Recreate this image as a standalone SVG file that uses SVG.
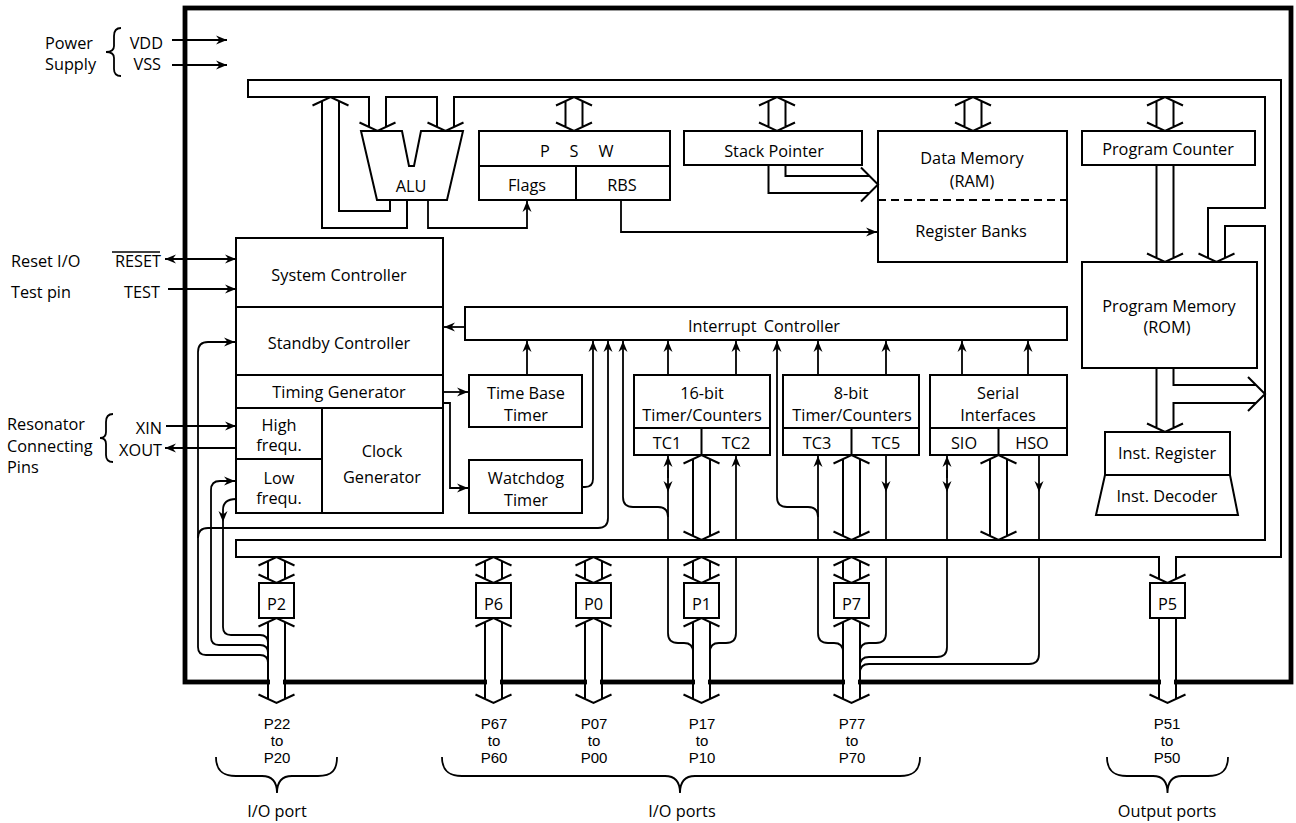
<svg xmlns="http://www.w3.org/2000/svg" width="1296" height="823" viewBox="0 0 1296 823">
<style>
.b{fill:none;stroke:#000;stroke-width:2}
.l{fill:none;stroke:#000;stroke-width:1.8}
.a{marker-end:url(#ah)}
.aa{marker-start:url(#ah);marker-end:url(#ah)}
text{font-family:"Open Sans","Noto Sans","DejaVu Sans",sans-serif;font-size:16.3px;fill:#000;text-anchor:middle}
.pin{font-family:"Liberation Sans",Arial,sans-serif;font-size:15px}
.s{text-anchor:start}
.e{text-anchor:end}
</style>
<defs>
<marker id="ah" viewBox="-12 -6 13 12" refX="0" refY="0" markerWidth="13" markerHeight="12" markerUnits="userSpaceOnUse" orient="auto-start-reverse"><path d="M0,0 L-11,-4.5 L-7.5,0 L-11,4.5 Z" fill="#000"/></marker>
</defs>
<rect width="1296" height="823" fill="#fff"/>

<g id="chip-border"><rect x="185" y="8" width="1106" height="674" fill="none" stroke="#000" stroke-width="4.8"/></g>

<g id="external-labels">
<text class="s" x="45" y="48.5">Power<tspan x="45" dy="21">Supply</tspan></text>
<path class="l" d="M121,28 C116,28 114,31 114,36 L114,46 C114,50 111,52 106,52 C111,52 114,54 114,58 L114,69 C114,74 116,76 121,76"/>
<text class="e" x="163" y="48.5">VDD</text>
<text class="e" x="161" y="69.5">VSS</text>
<text class="s" x="11" y="267">Reset I/O</text>
<text class="e" x="161" y="267">RESET</text>
<line x1="112" y1="252" x2="160" y2="252" stroke="#000" stroke-width="1.4"/>
<text class="s" x="11" y="297.5">Test pin</text>
<text class="e" x="160" y="297.5">TEST</text>
<text class="s" x="7" y="429.5">Resonator<tspan x="7" dy="22">Connecting</tspan><tspan x="7" dy="21">Pins</tspan></text>
<path class="l" d="M113,414 C108,414 106,417 106,422 L106,432 C106,436 104,438 100,438 C104,438 106,440 106,444 L106,455 C106,460 108,462 113,462"/>
<text class="e" x="162" y="433.5">XIN</text>
<text class="e" x="162" y="455.5">XOUT</text>
</g>

<g id="bus">
<path class="b" d="M369,127 V97 H248 V80 H1281 V557 H1176 V579"/>
<path class="b" d="M1159,579 V557 H236 V540 H1265 V226 H1225 V258"/>
<path class="b" d="M1208,258 V208 H1265 V97 H454 V127"/>
<path class="b" d="M437,127 V97 H386 V127"/>
<path class="b" d="M359.5,122.5 L377.5,131 L395.5,122.5 M427.5,122.5 L445.5,131 L463.5,122.5 M1198.5,253.5 L1216.5,262 L1234.5,253.5 M1149.5,574.5 L1167.5,583 L1185.5,574.5"/>
</g>

<g id="alu"><path class="b" d="M361,131 H402 L409,166 L414,166 L421,131 H463 L447,200 H377 Z"/><text x="411" y="192">ALU</text></g>
<g id="psw"><rect class="b" x="479" y="131" width="191" height="69"/><path class="b" d="M479,166 H670 M576,166 V200"/>
<text x="545" y="157">P</text><text x="574" y="157">S</text><text x="606" y="157">W</text>
<text x="527" y="191">Flags</text><text x="622" y="191">RBS</text></g>
<g id="stack-pointer"><rect class="b" x="684" y="131" width="178" height="34"/><text x="774" y="157">Stack Pointer</text></g>
<g id="data-memory"><rect class="b" x="878" y="131" width="189" height="131"/><line x1="878" y1="200" x2="1067" y2="200" stroke="#000" stroke-width="2" stroke-dasharray="8,5"/>
<text x="972" y="164">Data Memory<tspan x="972" dy="23">(RAM)</tspan></text><text x="971" y="237">Register Banks</text></g>
<g id="program-counter"><rect class="b" x="1082" y="131" width="173" height="34"/><text x="1168" y="155">Program Counter</text></g>
<g id="program-memory"><rect class="b" x="1082" y="262" width="175" height="106"/><text x="1169" y="311.5">Program Memory<tspan x="1167" dy="21.5">(ROM)</tspan></text></g>
<g id="inst-register"><rect class="b" x="1105" y="432" width="125" height="43"/><text x="1167" y="459">Inst. Register</text></g>
<g id="inst-decoder"><path class="b" d="M1105,475 H1230 L1238,515 H1096 Z"/><text x="1167" y="502">Inst. Decoder</text></g>

<g id="system-controller"><rect class="b" x="236" y="238" width="207" height="69"/><text x="339" y="280.5">System Controller</text></g>
<g id="standby-controller"><rect class="b" x="236" y="307" width="207" height="68"/><text x="339" y="348.5">Standby Controller</text></g>
<g id="timing-generator"><rect class="b" x="236" y="375" width="207" height="33"/><text x="339" y="397.5">Timing Generator</text></g>
<g id="clock-generator"><rect class="b" x="236" y="408" width="207" height="105"/><path class="b" d="M322,408 V513 M236,459 H322"/>
<text x="279" y="430.5">High<tspan x="279" dy="20.5">frequ.</tspan></text><text x="279" y="484">Low<tspan x="279" dy="19.5">frequ.</tspan></text>
<text x="382" y="457">Clock<tspan x="382" dy="26">Generator</tspan></text></g>

<g id="interrupt-controller"><rect class="b" x="465" y="307" width="602" height="33"/><text x="764" y="331.5" word-spacing="3">Interrupt Controller</text></g>
<g id="time-base-timer"><rect class="b" x="469" y="375" width="113" height="52"/><text x="526" y="398.5">Time Base<tspan x="526" dy="22">Timer</tspan></text></g>
<g id="watchdog-timer"><rect class="b" x="469" y="460" width="113" height="53"/><text x="526" y="483.5">Watchdog<tspan x="526" dy="22">Timer</tspan></text></g>
<g id="timer16"><rect class="b" x="634" y="375" width="136" height="80"/><path class="b" d="M634,428 H770 M701.5,428 V455"/>
<text x="702" y="398.5">16-bit<tspan x="702" dy="22">Timer/Counters</tspan></text><text x="667" y="448.5">TC1</text><text x="736" y="448.5">TC2</text></g>
<g id="timer8"><rect class="b" x="783" y="375" width="136" height="80"/><path class="b" d="M783,428 H919 M851.5,428 V455"/>
<text x="851" y="398.5">8-bit<tspan x="852" dy="22">Timer/Counters</tspan></text><text x="817" y="448.5">TC3</text><text x="886" y="448.5">TC5</text></g>
<g id="serial"><rect class="b" x="930" y="375" width="137" height="80"/><path class="b" d="M930,428 H1067 M998.5,428 V455"/>
<text x="998" y="398.5">Serial<tspan x="998" dy="22">Interfaces</tspan></text><text x="964" y="448.5">SIO</text><text x="1032" y="448.5">HSO</text></g>

<g id="connectors">
<path class="l a" d="M172,40 H227"/>
<path class="l a" d="M172,65 H227"/>
<path class="l aa" d="M165,259 H236"/>
<path class="l a" d="M168,289 H236"/>
<path class="l a" d="M166,426 H236"/>
<path class="l a" d="M236,448 H165"/>
<path class="b" d="M312.5,105.5 L330.5,97 L348.5,105.5 M407,200 V228 H322 V101 M390,200 V211 H339 V101"/>
<path class="l a" d="M428,200 V228 H527 V201"/>
<path class="l a" d="M621,200 V232 H877"/>
<path class="b" d="M556,105.5 L574,97 L592,105.5 M565.5,101 V127 M582.5,101 V127 M556,122.5 L574,131 L592,122.5"/>
<path class="b" d="M759,105.5 L777,97 L795,105.5 M768.5,101 V127 M785.5,101 V127 M759,122.5 L777,131 L795,122.5"/>
<path class="b" d="M955,105.5 L973,97 L991,105.5 M964.5,101 V127 M981.5,101 V127 M955,122.5 L973,131 L991,122.5"/>
<path class="b" d="M1147,105.5 L1165,97 L1183,105.5 M1156.5,101 V127 M1173.5,101 V127 M1147,122.5 L1165,131 L1183,122.5"/>
<path class="b" d="M785.5,165 V176 H869.5 M768.5,165 V193 H869.5 M861,167.5 L878,184.5 L861,201.5"/>
<path class="b" d="M1156.5,165 V258 M1173.5,165 V258 M1147,253.5 L1165,262 L1183,253.5"/>
<path class="b" d="M1156.5,368 V428 M1173.5,368 V385 H1256 M1256,403 H1173.5 V428 M1147,423.5 L1165,432 L1183,423.5 M1248,377 L1265,394 L1248,411"/>
<path class="l a" d="M443,392 H468"/>
<path class="l a" d="M443,403 H450 V488 H468"/>
<path class="l a" d="M465,327 H444"/>
<path class="l a" d="M527,375 V341"/>
<path class="l a" d="M582,487 H585 Q593,487 593,479 V341"/>
<path class="l a" d="M198,538 Q198,528 208,528 H598 Q608,528 608,518 V341"/>
<path class="l a" d="M668,517 Q668,507 658,507 H633 Q623,507 623,497 V341"/>
<path class="l a" d="M668,375 V341"/>
<path class="l a" d="M736,375 V341"/>
<path class="l a" d="M818,517 Q818,507 808,507 H787 Q777,507 777,497 V341"/>
<path class="l a" d="M818,375 V341"/>
<path class="l a" d="M886,375 V341"/>
<path class="l a" d="M962,375 V341"/>
<path class="l a" d="M1028,375 V341"/>
<path class="l a" d="M668,478 V456"/>
<path class="l a" d="M668,470 V492"/>
<path class="l" d="M668,492 V540"/>
<path class="l a" d="M736,540 V456"/>
<path class="l a" d="M818,540 V456"/>
<path class="l a" d="M886,455 V492"/>
<path class="l" d="M886,492 V540"/>
<path class="l a" d="M947,478 V456"/>
<path class="l a" d="M947,470 V492"/>
<path class="l" d="M947,492 V540"/>
<path class="l a" d="M1039,455 V492"/>
<path class="l" d="M1039,492 V540"/>
<path class="b" d="M683.5,463.5 L701.5,455 L719.5,463.5 M693,459 V536 M710,459 V536 M683.5,531.5 L701.5,540 L719.5,531.5"/>
<path class="b" d="M833.5,463.5 L851.5,455 L869.5,463.5 M843,459 V536 M860,459 V536 M833.5,531.5 L851.5,540 L869.5,531.5"/>
<path class="b" d="M980.5,463.5 L998.5,455 L1016.5,463.5 M990,459 V536 M1007,459 V536 M980.5,531.5 L998.5,540 L1016.5,531.5"/>
<path class="l" d="M668,557 V633 Q668,643 678,643 H684 Q693,643 693,652"/>
<path class="l" d="M736,557 V633 Q736,643 726,643 H719 Q710,643 710,652"/>
<path class="l" d="M818,557 V633 Q818,643 828,643 H834 Q843,643 843,652"/>
<path class="l" d="M886,557 V633 Q886,643 876,643 H869 Q860,643 860,652"/>
<path class="l" d="M947,557 V647 Q947,657 937,657 H869 Q860,657 860,666"/>
<path class="l" d="M1039,557 V654 Q1039,664 1029,664 H869 Q860,664 860,673"/>
<path class="l a" d="M236,499 Q223,499 223,510 V522"/>
<path class="l" d="M223,522 V627 Q223,635 231,635 H260 Q268,635 268,643"/>
<path class="l a" d="M268,653 Q268,645 260,645 H219 Q211,645 211,637 V490 Q211,481 220,481 H235"/>
<path class="l a" d="M268,663 Q268,655 260,655 H206 Q198,655 198,647 V352 Q198,342 208,342 H235"/>
</g>

<g id="border-gaps" fill="#fff">
<rect x="270" y="678" width="13" height="9"/><rect x="487" y="678" width="13" height="9"/><rect x="587" y="678" width="13" height="9"/>
<rect x="695" y="678" width="13" height="9"/><rect x="845" y="678" width="13" height="9"/><rect x="1161" y="678" width="13" height="9"/>
</g>

<g id="port-arrows">
<path class="b" d="M258.5,565.5 L276.5,557 L294.5,565.5 M268,561 V579 M285,561 V579 M258.5,574.5 L276.5,583 L294.5,574.5 M258.5,626.5 L276.5,618 L294.5,626.5 M268,622 V699 M285,622 V699 M258.5,694.5 L276.5,703 L294.5,694.5"/>
<path class="b" d="M475.5,565.5 L493.5,557 L511.5,565.5 M485,561 V579 M502,561 V579 M475.5,574.5 L493.5,583 L511.5,574.5 M475.5,626.5 L493.5,618 L511.5,626.5 M485,622 V699 M502,622 V699 M475.5,694.5 L493.5,703 L511.5,694.5"/>
<path class="b" d="M575.5,565.5 L593.5,557 L611.5,565.5 M585,561 V579 M602,561 V579 M575.5,574.5 L593.5,583 L611.5,574.5 M575.5,626.5 L593.5,618 L611.5,626.5 M585,622 V699 M602,622 V699 M575.5,694.5 L593.5,703 L611.5,694.5"/>
<path class="b" d="M683.5,565.5 L701.5,557 L719.5,565.5 M693,561 V579 M710,561 V579 M683.5,574.5 L701.5,583 L719.5,574.5 M683.5,626.5 L701.5,618 L719.5,626.5 M693,622 V699 M710,622 V699 M683.5,694.5 L701.5,703 L719.5,694.5"/>
<path class="b" d="M833.5,565.5 L851.5,557 L869.5,565.5 M843,561 V579 M860,561 V579 M833.5,574.5 L851.5,583 L869.5,574.5 M833.5,626.5 L851.5,618 L869.5,626.5 M843,622 V699 M860,622 V699 M833.5,694.5 L851.5,703 L869.5,694.5"/>
<path class="b" d="M1159,618 V699 M1176,618 V699 M1149.5,694.5 L1167.5,703 L1185.5,694.5"/>
</g>

<g id="port-p2"><rect class="b" x="259" y="583" width="35" height="35"/><text x="276.5" y="609.5">P2</text></g>
<g id="port-p6"><rect class="b" x="476" y="583" width="35" height="35"/><text x="493.5" y="609.5">P6</text></g>
<g id="port-p0"><rect class="b" x="576" y="583" width="35" height="35"/><text x="593.5" y="609.5">P0</text></g>
<g id="port-p1"><rect class="b" x="684" y="583" width="35" height="35"/><text x="701.5" y="609.5">P1</text></g>
<g id="port-p7"><rect class="b" x="834" y="583" width="35" height="35"/><text x="851.5" y="609.5">P7</text></g>
<g id="port-p5"><rect class="b" x="1150" y="583" width="35" height="35"/><text x="1167.5" y="609.5">P5</text></g>

<g id="pin-labels">
<text class="pin" x="277" y="728.5">P22<tspan x="277" dy="17.4">to</tspan><tspan x="277" dy="17.4">P20</tspan></text>
<text class="pin" x="494" y="728.5">P67<tspan x="494" dy="17.4">to</tspan><tspan x="494" dy="17.4">P60</tspan></text>
<text class="pin" x="594" y="728.5">P07<tspan x="594" dy="17.4">to</tspan><tspan x="594" dy="17.4">P00</tspan></text>
<text class="pin" x="702" y="728.5">P17<tspan x="702" dy="17.4">to</tspan><tspan x="702" dy="17.4">P10</tspan></text>
<text class="pin" x="852" y="728.5">P77<tspan x="852" dy="17.4">to</tspan><tspan x="852" dy="17.4">P70</tspan></text>
<text class="pin" x="1167" y="728.5">P51<tspan x="1167" dy="17.4">to</tspan><tspan x="1167" dy="17.4">P50</tspan></text>
<path class="l" d="M216,757 C216,770 222,776 236,776 H262 C272,776 277,782 277,793 C277,782 282,776 292,776 H318 C332,776 337,770 337,757"/>
<path class="l" d="M442,757 C442,770 448,776 462,776 H665 C675,776 680,782 680,793 C680,782 685,776 695,776 H900 C914,776 920,770 920,757"/>
<path class="l" d="M1107,757 C1107,770 1113,776 1127,776 H1153 C1163,776 1167.5,782 1167.5,793 C1167.5,782 1172,776 1182,776 H1208 C1222,776 1228,770 1228,757"/>
<text x="277" y="816.5">I/O port</text>
<text x="682" y="816.5">I/O ports</text>
<text x="1167" y="816.5">Output ports</text>
</g>
</svg>
